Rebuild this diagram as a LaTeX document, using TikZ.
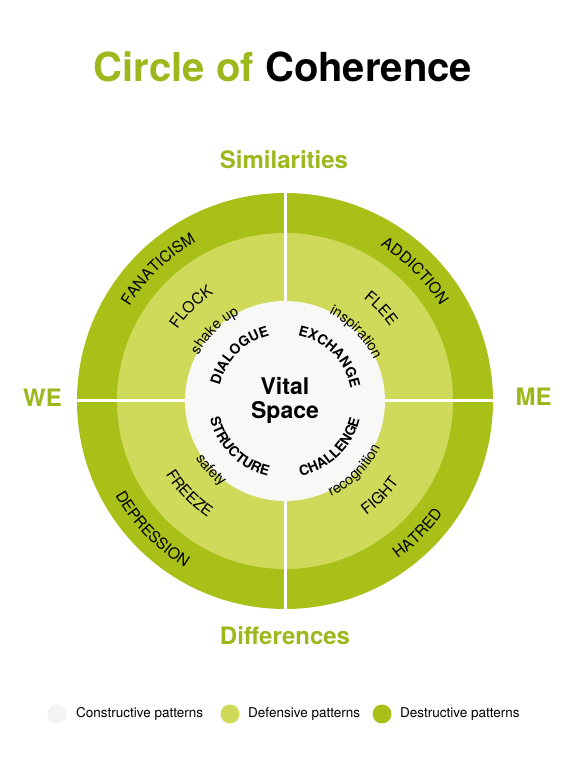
\documentclass[tikz,border=0pt]{standalone}
\usepackage{fontspec}
\setmainfont{TeX Gyre Heros}
\usetikzlibrary{decorations.text}
\definecolor{darkring}{RGB}{168,192,24}
\definecolor{lightring}{RGB}{208,218,90}
\definecolor{titlegreen}{RGB}{155,184,28}
\definecolor{innerwhite}{RGB}{248,248,246}
\definecolor{legendwhite}{RGB}{244,244,242}
\newcommand\TopArc[4]{\path[decorate,decoration={text along path,text align=center,text={|#3|#4}}] ({#1+60}:#2) arc[start angle={#1+60}, end angle={#1-60}, radius=#2];}
\newcommand\BotArc[4]{\path[decorate,decoration={text along path,text align=center,text={|#3|#4}}] ({#1-60}:#2) arc[start angle={#1-60}, end angle={#1+60}, radius=#2];}
\newcommand\ringfont{\fontsize{15.5}{18}\selectfont}
\newcommand\smallfont{\fontsize{14.5}{17}\selectfont}
\newcommand\boldfont{\bfseries\fontsize{14}{17}\selectfont}
\tikzset{
  heading/.style={font=\bfseries\fontsize{24}{28}\selectfont, text=titlegreen, anchor=base, inner sep=0pt},
  legendtext/.style={font=\fontsize{13.5}{16}\selectfont, anchor=west, inner sep=0pt},
  legenddot/.style={circle, minimum size=19pt, inner sep=0pt},
  divider/.style={white, line width=3pt}
}
\begin{document}
\begin{tikzpicture}[x=1pt,y=1pt]
\useasboundingbox (0,0) rectangle (576,762);
\fill[white] (0,0) rectangle (576,762);
% title
\node[anchor=base, inner sep=0pt, font=\bfseries\fontsize{40}{46}\selectfont] (title) at (283,680) {\textcolor{titlegreen}{Circle of} Coherence};
\node[heading] (sim) at (284,593) {Similarities};
\node[heading] (diff) at (285,117) {Differences};
\node[heading] (we) at (42.5,355) {WE};
\node[heading] (me) at (533.5,356) {ME};
% circle
\begin{scope}[shift={(285,361)}]
\fill[darkring] (0,0) circle[radius=208];
\fill[lightring] (0,0) circle[radius=168];
\draw[divider] (0,-209) -- (0,209);
\draw[divider] (-209,0) -- (209,0);
\fill[innerwhite] (0,0) circle[radius=100];
% outer ring
\TopArc{134}{182}{\ringfont}{FANATICISM}
\TopArc{45}{182}{\ringfont}{ADDICTION}
\BotArc{224}{194}{\ringfont}{DEPRESSION}
\BotArc{315}{194}{\ringfont}{HATRED}
% middle ring
\TopArc{135}{129}{\ringfont}{FLOCK}
\TopArc{44}{129}{\ringfont}{FLEE}
\BotArc{224}{140}{\ringfont}{FREEZE}
\BotArc{315}{140}{\ringfont}{FIGHT}
% small words
\TopArc{135}{98}{\smallfont}{shake up}
\TopArc{44}{98}{\smallfont}{inspiration}
\BotArc{223}{106}{\smallfont}{safety}
\BotArc{315}{106}{\smallfont}{recognition}
% bold words
\TopArc{135}{67}{\boldfont}{DIALOGUE}
\TopArc{45}{67}{\boldfont}{EXCHANGE}
\BotArc{225}{77}{\boldfont}{STRUCTURE}
\BotArc{314}{77}{\boldfont}{CHALLENGE}
\node[anchor=base, inner sep=0pt, font=\bfseries\fontsize{23}{27}\selectfont] (vital) at (0,6) {Vital};
\node[anchor=base, inner sep=0pt, font=\bfseries\fontsize{23}{27}\selectfont] (space) at (0,-18) {Space};
\end{scope}
% legend
\node[legenddot, fill=legendwhite] (l1) at (57,48) {};
\node[legendtext] (t1) at (76,48) {Constructive patterns};
\node[legenddot, fill=lightring] (l2) at (230,48) {};
\node[legendtext] (t2) at (248,48) {Defensive patterns};
\node[legenddot, fill=darkring] (l3) at (382,48) {};
\node[legendtext] (t3) at (400,48) {Destructive patterns};
\end{tikzpicture}
\end{document}
